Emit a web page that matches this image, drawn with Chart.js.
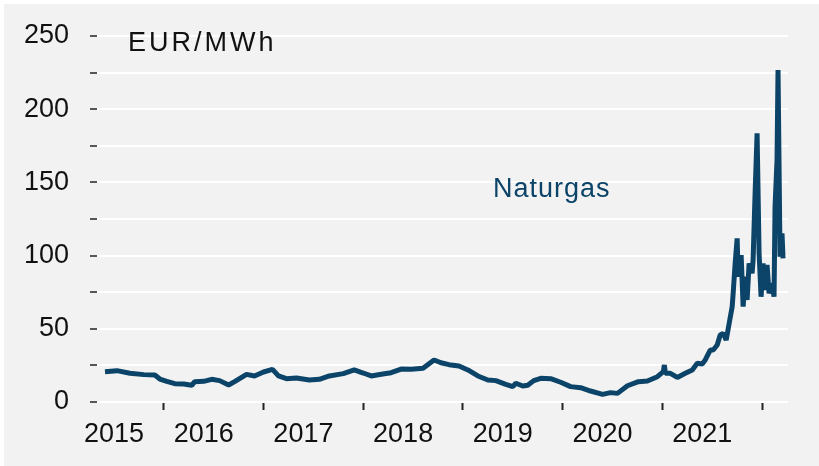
<!DOCTYPE html>
<html>
<head>
<meta charset="utf-8">
<script src="https://cdn.jsdelivr.net/npm/chart.js@4.4.1/dist/chart.umd.min.js"></script>
<style>
  body{margin:0;background:#fff;}
  #myChart{position:absolute;left:4px;top:4px;background:#f2f2f2;}
</style>
</head>
<body>
<canvas id="myChart" width="815" height="462"></canvas>
<script>
// fractional years and TTF price, EUR/MWh
let dates=[2015.41,2015.53,2015.66,2015.80,2015.91,2015.96,2016.03,2016.11,2016.20,2016.28,2016.31,2016.40,2016.48,2016.56,2016.65,2016.71,2016.83,2016.91,
2017.00,2017.09,2017.15,2017.23,2017.33,2017.46,2017.56,2017.66,2017.80,2017.91,2018.00,2018.08,2018.18,2018.28,2018.38,2018.48,2018.60,2018.71,2018.78,2018.86,2018.96,
2019.05,2019.15,2019.25,2019.33,2019.43,2019.50,2019.53,2019.60,2019.65,2019.71,2019.78,2019.88,2019.98,2020.08,2020.18,2020.28,2020.40,2020.48,2020.55,2020.65,2020.76,2020.85,2020.95,
2021.01,2021.02,2021.03,2021.08,2021.15,2021.23,2021.30,2021.35,2021.40,2021.43,2021.48,2021.51,2021.55,2021.58,2021.61,2021.64,2021.67,2021.70,2021.71,2021.73,2021.75,2021.76,2021.79,
2021.81,2021.83,2021.85,2021.87,2021.90,2021.91,2021.93,2021.95,2021.97,2021.99,2022.01,2022.03,2022.05,2022.07,2022.10,2022.12,2022.13,2022.15,2022.16,2022.18,2022.20,2022.21]
let prices=[20.7,21.4,19.6,18.7,18.4,15.7,14.1,12.5,12.3,11.4,13.9,14.1,15.5,14.6,11.6,13.9,18.9,17.8,
20.5,22.3,17.8,15.9,16.4,15.0,15.5,17.8,19.4,21.9,19.8,17.8,18.9,20.0,22.5,22.3,23.0,28.7,26.8,25.5,24.6,
21.9,17.8,15.0,14.6,12.1,10.5,12.8,10.9,11.4,14.6,16.2,15.9,13.5,10.5,9.8,7.5,5.2,6.4,5.9,11.1,13.9,14.3,17.3,
20.7,25.3,19.6,19.6,16.8,19.6,21.9,26.4,26.0,28.7,35.5,35.5,38.9,45.8,46.9,42.3,53.7,65.1,74.2,94.7,111.8,85.6,100.4,
65.1,85.6,69.7,94.7,87.9,97,142.5,183.5,101.6,71.9,94.7,76.5,93.6,74.2,81.1,71.9,133.4,165.3,226.8,99.2,115.2,98.1]
let years=[2015,2016,2017,2018,2019,2020,2021]
let yTicks=[0,50,100,150,200,250]
let unit='EUR/MWh'
let seriesName='Naturgas'

let xMin=2015.33, xMax=2022.26
let blue='#0b4468'

let points=[]
for(let i=0;i<dates.length;i++){
  points.push({x:dates[i],y:prices[i]})
}

// labels sit a bit before mid-year, first one pushed in from the edge
let labelAt=years.map(y=>Math.max(y+0.4,xMin+0.17))

const textPlugin={
  id:'texts',
  afterDraw(chart){
    let c=chart.ctx
    c.save()
    c.font='27px "Liberation Sans", Arial, sans-serif'
    c.textBaseline='alphabetic'
    c.textAlign='left'
    c.fillStyle='#111'
    c.letterSpacing='3px'
    c.fillText(unit,124,47)
    c.fillStyle=blue
    c.letterSpacing='1px'
    c.fillText(seriesName,489,193)
    c.restore()
  }
}

const ctx=document.getElementById('myChart')
new Chart(ctx,{
  type:'line',
  data:{
    datasets:[{
      label:seriesName,
      data:points,
      borderColor:blue,
      borderWidth:5,
      borderJoinStyle:'bevel',
      pointRadius:0,
      tension:0,
      fill:false
    }]
  },
  options:{
    responsive:false,
    animation:false,
    layout:{padding:{top:32,right:31,left:0,bottom:16}},
    plugins:{legend:{display:false},tooltip:{enabled:false}},
    scales:{
      x:{
        type:'linear',
        min:xMin,max:xMax,
        weight:0,
        afterBuildTicks(s){ s.ticks=[2016,2017,2018,2019,2020,2021,2022].map(v=>({value:v})) },
        ticks:{display:false},
        grid:{drawOnChartArea:false,drawTicks:true,tickLength:8,tickColor:'#222',tickWidth:2},
        border:{display:false},
        afterFit(s){ s.height=8 }
      },
      xl:{
        type:'linear',
        position:'bottom',
        min:xMin,max:xMax,
        weight:1,
        afterBuildTicks(s){ s.ticks=labelAt.map(v=>({value:v})) },
        ticks:{
          autoSkip:false,maxRotation:0,padding:0,color:'#111',
          font:{family:'"Liberation Sans", Arial, sans-serif',size:27},
          callback:(v,i)=>String(years[i])
        },
        grid:{display:false},
        border:{display:false},
        afterFit(s){ s.height=40 }
      },
      y:{
        min:0,max:250,
        afterBuildTicks(s){
          let t=[]
          for(let v=0;v<=250;v+=25) t.push({value:v})
          s.ticks=t
        },
        ticks:{
          padding:21,color:'#111',
          font:{family:'"Liberation Sans", Arial, sans-serif',size:27},
          callback:v=>yTicks.includes(v)?String(v):''
        },
        grid:{color:'#fff',lineWidth:2,drawTicks:true,tickLength:7,tickColor:'#222',tickWidth:1.5},
        border:{display:false},
        afterFit(s){ s.width=93; s.paddingTop=0; s.paddingBottom=0 }
      }
    }
  },
  plugins:[textPlugin]
})
</script>
</body>
</html>
